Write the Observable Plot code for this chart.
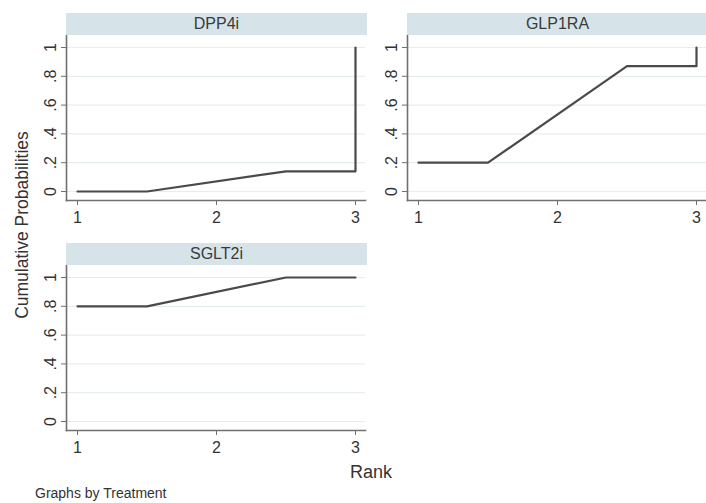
<!DOCTYPE html>
<html>
<head>
<meta charset="utf-8">
<script src="https://cdn.jsdelivr.net/npm/d3@7"></script>
<script src="https://cdn.jsdelivr.net/npm/@observablehq/plot@0.6"></script>
<style>
  html, body { margin: 0; padding: 0; background: #fff; overflow: hidden; }
  #root { position: relative; width: 706px; height: 503px; font-family: "Liberation Sans", Arial, sans-serif; color: #333; }
  .panel { position: absolute; }
  .strip { position: absolute; background: #d6e4ea; color: #3a3a3a; font-size: 16px; text-align: center; line-height: 22px; height: 22px; }
  .lbl { position: absolute; white-space: nowrap; color: #333; }
</style>
</head>
<body>
<div id="root"></div>
<script>
// ---- data ----
const treatments = ["DPP4i", "GLP1RA", "SGLT2i"];
const rankX = [1, 1.5, 2.5, 3, 3];
const dpp4i = [0, 0, 0.14, 0.14, 1];
const glp1ra = [0.2, 0.2, 0.87, 0.87, 1];
const sglt2i = [0.8, 0.8, 1, 1, 1];
const xTicks = [1, 2, 3];
const yTicks = [0, 0.2, 0.4, 0.6, 0.8, 1];
const yTickLabels = ["0", ".2", ".4", ".6", ".8", "1"];
const yTitle = "Cumulative Probabilities";
const xTitle = "Rank";
const note = "Graphs by Treatment";

const seriesValues = [dpp4i, glp1ra, sglt2i];
const root = document.getElementById("root");

const layouts = [
  {left: 0, top: 0, width: 370, marginRight: 5},
  {left: 341, top: 0, width: 365, marginRight: 0},
  {left: 0, top: 230, width: 370, marginRight: 5}
];

treatments.forEach((name, i) => {
  const L = layouts[i];
  const data = rankX.map((x, j) => ({x, y: seriesValues[i][j]}));
  const tickData = yTicks.map((v, j) => ({v, t: yTickLabels[j]}));
  const chart = Plot.plot({
    width: L.width,
    height: 232,
    marginLeft: 66,
    marginRight: L.marginRight,
    marginTop: 35,
    marginBottom: 32,
    insetLeft: 11,
    insetRight: 10,
    insetTop: 12,
    insetBottom: 9,
    x: {domain: [1, 3], axis: null},
    y: {domain: [0, 1], axis: null},
    style: {fontFamily: "'Liberation Sans', Arial, sans-serif", fontSize: "16px", color: "#333", background: "transparent"},
    marks: [
      Plot.ruleY(yTicks, {stroke: "#e6edf1", strokeWidth: 1.2}),
      Plot.frame({anchor: "left", stroke: "#707070", strokeWidth: 1.6}),
      Plot.frame({anchor: "bottom", stroke: "#707070", strokeWidth: 1.6}),
      Plot.axisX({ticks: xTicks, tickSize: 5, tickPadding: 6, tickFormat: d => String(d), label: null, stroke: "#707070", fill: "#333", fontSize: 16}),
      Plot.axisY({ticks: yTicks, tickSize: 5, tickFormat: () => "", label: null, stroke: "#707070"}),
      Plot.text(tickData, {y: "v", text: "t", frameAnchor: "left", dx: -11, rotate: -90, textAnchor: "middle", lineAnchor: "bottom", fill: "#333", fontSize: 16}),
      Plot.line(data, {x: "x", y: "y", stroke: "#4a4a4a", strokeWidth: 2.2})
    ]
  });
  chart.classList.add("panel");
  chart.style.left = L.left + "px";
  chart.style.top = L.top + "px";
  root.appendChild(chart);

  const strip = document.createElement("div");
  strip.className = "strip";
  strip.textContent = name;
  strip.style.left = (L.left + 66) + "px";
  strip.style.top = (L.top + 13) + "px";
  strip.style.width = (L.width - 66 - L.marginRight + 2) + "px";
  root.appendChild(strip);
});

const yt = document.createElement("div");
yt.className = "lbl";
yt.textContent = yTitle;
yt.style.fontSize = "17.5px";
yt.style.left = "22px";
yt.style.top = "225px";
yt.style.transform = "translate(-50%, -50%) rotate(-90deg)";
root.appendChild(yt);

const xt = document.createElement("div");
xt.className = "lbl";
xt.textContent = xTitle;
xt.style.fontSize = "18px";
xt.style.left = "350px";
xt.style.top = "462px";
root.appendChild(xt);

const nt = document.createElement("div");
nt.className = "lbl";
nt.textContent = note;
nt.style.fontSize = "14px";
nt.style.left = "35px";
nt.style.top = "485px";
root.appendChild(nt);
</script>
</body>
</html>
